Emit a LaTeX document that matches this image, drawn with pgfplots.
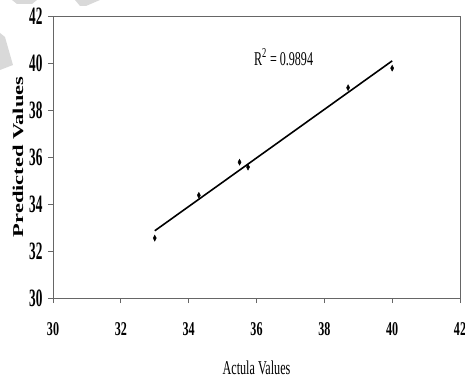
\documentclass[border=0pt]{standalone}
\usepackage{fontspec}
\setmainfont{Liberation Serif}
\newfontfamily\xt[FakeStretch=0.62]{Liberation Serif}
\newfontfamily\yt[FakeStretch=0.53]{Liberation Serif}
\newfontfamily\yl[FakeStretch=1.5]{Liberation Serif}
\usepackage{pgfplots}
\pgfplotsset{compat=1.18}
\begin{document}
\begin{tikzpicture}
\fill[gray!30] (-41pt,298pt) -- (-16pt,298pt) -- (-21pt,294pt) -- (-36pt,294pt) -- cycle;
\fill[gray!30] (22pt,298pt) -- (47pt,298pt) -- (33pt,292pt) -- (27pt,292pt) -- cycle;
\fill[gray!30] (-53pt,265pt) -- (-48pt,261pt) -- (-40pt,233pt) -- (-53pt,228pt) -- cycle;
\begin{axis}[
  scale only axis, width=407pt, height=282pt,
  xmin=30, xmax=42, ymin=30, ymax=42,
  xtick={30,32,...,42}, ytick={30,32,...,42},
  xtick pos=left, ytick pos=left,
  tick align=outside, major tick length=5pt,
  tick style={black!60, line width=0.8pt},
  axis line style={black!60, line width=0.9pt},
  /pgf/number format/assume math mode=true,
  xticklabel style={font=\xt\bfseries\fontsize{19.5}{20}\selectfont, yshift=-16pt},
  yticklabel style={font=\yt\bfseries\fontsize{25}{26}\selectfont, xshift=-2pt},
  xlabel={Actula Values},
  xlabel style={font=\xt\fontsize{19.6}{20}\selectfont, at={(axis description cs:0.5,0)}, anchor=center, yshift=-70pt},
]
\addplot[black, line width=1.6pt] coordinates {(33,32.86) (40,40.09)};
\addplot[only marks, mark=diamond*, mark size=3pt, mark options={xscale=0.7, fill=black}, black] coordinates {
(33,32.55) (34.3,34.37) (35.5,35.78) (35.75,35.57) (38.7,38.95) (40,39.78)};
\node[font=\xt\fontsize{19.5}{20}\selectfont] at (axis cs:36.8,40.26) {R\textsuperscript{2} = 0.9894};
\end{axis}
\node[font=\yl\bfseries\fontsize{15}{16}\selectfont, rotate=90, anchor=center] at (-35pt,141pt) {Predicted Values};
\pgfresetboundingbox
\path (-53pt,-80pt) rectangle (412pt,298pt);
\end{tikzpicture}
\end{document}
